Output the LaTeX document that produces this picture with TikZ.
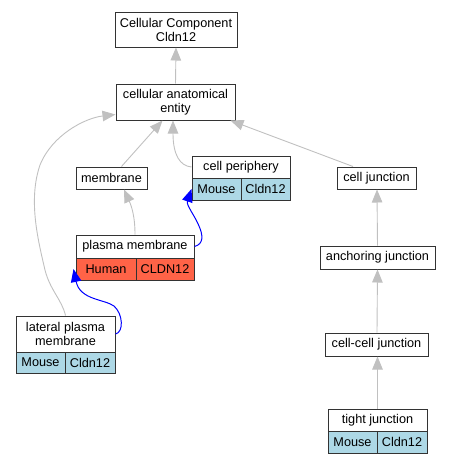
\documentclass[tikz,border=0pt]{standalone}
\usepackage{fontspec}
\setmainfont{Liberation Sans}
\usetikzlibrary{arrows.meta}
\definecolor{lightblue}{HTML}{ADD8E6}
\definecolor{tomato}{HTML}{FF6347}
\definecolor{silver}{HTML}{C0C0C0}

\begin{document}
\begin{tikzpicture}[x=1pt, y=-1pt,
        term/.style={draw=black!80, line width=1pt, fill=white, inner sep=0pt, align=center, font=\fontsize{12.7}{14}\selectfont},
        mouse/.style={term, fill=lightblue},
        human/.style={term, fill=tomato},
        isa/.style={draw=silver, line width=0.9pt, -{Triangle[length=13pt, width=10.5pt]}},
        ortho/.style={draw=blue, line width=1pt, -{Triangle[length=13pt, width=10.5pt]}}]
        \useasboundingbox (0,0) rectangle (451,464);

        % Nodes
        \node[term, minimum width=122pt, minimum height=35pt] at (176, 29.5)  (cc)    {Cellular Component\\Cldn12};
        \node[term, minimum width=119pt, minimum height=36pt] at (175.5, 102)  (cae)   {cellular anatomical\\entity};
        \node[term, minimum width=71pt, minimum height=22pt] at (111.5, 178)  (mem)   {membrane};
        \node[term, minimum width=79pt, minimum height=22pt] at (376.5, 178)  (cj)    {cell junction};
        \node[term, minimum width=115pt, minimum height=23pt] at (377.5, 257.5)  (aj)  {anchoring junction};
        \node[term, minimum width=103pt, minimum height=23pt] at (376.5, 344.5)  (ccj) {cell-cell junction};

        % cell periphery
        \node[term, minimum width=98pt, minimum height=22pt] at (241, 167)  (cp)     {cell periphery};
        \node[mouse, minimum width=49pt, minimum height=22pt] at (216.5, 189)  (cpm) {Mouse};
        \node[mouse, minimum width=49pt, minimum height=22pt] at (265.5, 189)  (cpg) {Cldn12};

        % plasma membrane
        \node[term, minimum width=118pt, minimum height=23pt] at (135, 246.5)  (pm)  {plasma membrane};
        \node[human, minimum width=60pt, minimum height=22pt] at (106, 269)  (pmh)   {Human};
        \node[human, minimum width=58pt, minimum height=22pt] at (165, 269)  (pmg)   {CLDN12};

        % lateral plasma membrane
        \node[term, minimum width=99pt, minimum height=36pt] at (65.5, 334)  (lpm)   {lateral plasma\\membrane};
        \node[mouse, minimum width=49pt, minimum height=21pt] at (40.5, 362.5)  (lpmm) {Mouse};
        \node[mouse, minimum width=50pt, minimum height=21pt] at (90, 362.5)  (lpmg)   {Cldn12};

        % tight junction
        \node[term, minimum width=99pt, minimum height=22pt] at (377.5, 420)  (tj)   {tight junction};
        \node[mouse, minimum width=49pt, minimum height=22pt] at (352.5, 442)  (tjm) {Mouse};
        \node[mouse, minimum width=50pt, minimum height=22pt] at (402, 442)  (tjg)   {Cldn12};

        % is_a
        \draw[isa]  (cae.north) -- (cc.south);
        \draw[isa]  ([xshift=10pt]mem.north) -- ([xshift=-13pt]cae.south);
        \draw[isa]  (cp.west) .. controls (180, 166) and (173, 155) .. ([xshift=-2.5pt]cae.south);
        \draw[isa]  ([xshift=-23.5pt]cj.north) -- ([xshift=-5pt]cae.south east);
        \draw[isa]  (lpm.north) .. controls (62, 300) and (50, 290) .. (45, 270)
            .. controls (38, 240) and (28, 200) .. (40, 165)
            .. controls (52, 135) and (85, 118) .. ([yshift=6pt]cae.south west);
        \draw[isa]  (pm.north) .. controls (135, 215) and (131, 205) .. ([xshift=12.5pt]mem.south);
        \draw[isa]  (aj.north) -- ([xshift=0.5pt]cj.south);
        \draw[isa]  ([xshift=0.5pt]ccj.north) -- (aj.south);
        \draw[isa]  (tj.north) -- ([xshift=1pt]ccj.south);

        % orthologs
        \draw[ortho] (pm.east) .. controls (204, 244) and (203, 235) .. (199, 226)
            .. controls (195, 216) and (186, 205) .. (cpm.west);
        \draw[ortho] (lpm.east) .. controls (124, 332) and (123, 314) .. (114, 306)
            .. controls (104, 299) and (80, 300) .. ([xshift=-2pt]pmh.west);

    \end{tikzpicture}
\end{document}
